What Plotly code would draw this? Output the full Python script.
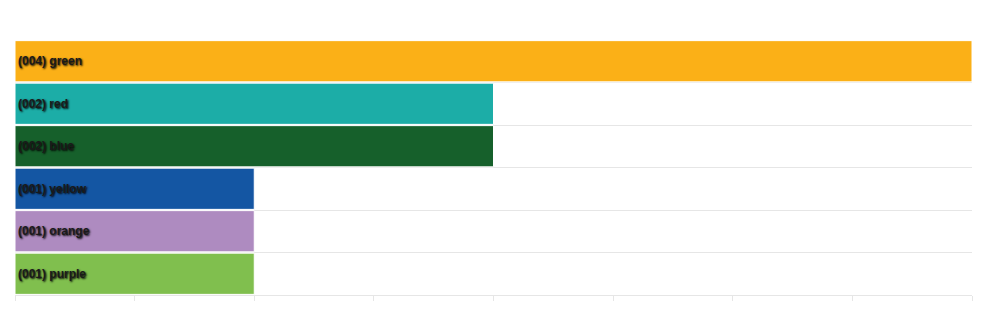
import plotly.graph_objects as go

categories = ["green", "red", "blue", "yellow", "orange", "purple"]
counts = [4, 2, 2, 1, 1, 1]
colors = ["#FBB017", "#1CADA7", "#16602B", "#1456A3", "#AE8BC0", "#80BF4E"]
labels = [f"({c:03d}) {n}" for n, c in zip(categories, counts)]

fig = go.Figure(
    go.Bar(
        x=counts,
        y=categories,
        orientation="h",
        marker=dict(color=colors, line=dict(color="white", width=1)),
        text=labels,
        textposition="inside",
        insidetextanchor="start",
        textangle=0,
        constraintext="none",
        textfont=dict(family="Liberation Sans, Arial, sans-serif", size=12, color="#1a1a1a",
                      weight="bold", shadow="1px 1px 2px #000"),
        hoverinfo="skip",
    )
)

fig.update_layout(
    width=984,
    height=332,
    margin=dict(l=15, r=12, t=40, b=37),
    paper_bgcolor="white",
    plot_bgcolor="white",
    bargap=0.03,
    showlegend=False,
)
fig.update_xaxes(
    range=[0, 4],
    dtick=0.5,
    showgrid=False,
    zeroline=False,
    showticklabels=False,
    ticks="outside",
    ticklen=5,
    tickcolor="#e6e6e6",
    showline=True,
    linecolor="#e6e6e6",
    linewidth=1,
)
fig.update_yaxes(
    autorange="reversed",
    showticklabels=False,
    tickson="boundaries",
    showgrid=True,
    gridcolor="#e6e6e6",
    gridwidth=1,
    ticks="",
    zeroline=False,
)

fig.write_html("out.html")
